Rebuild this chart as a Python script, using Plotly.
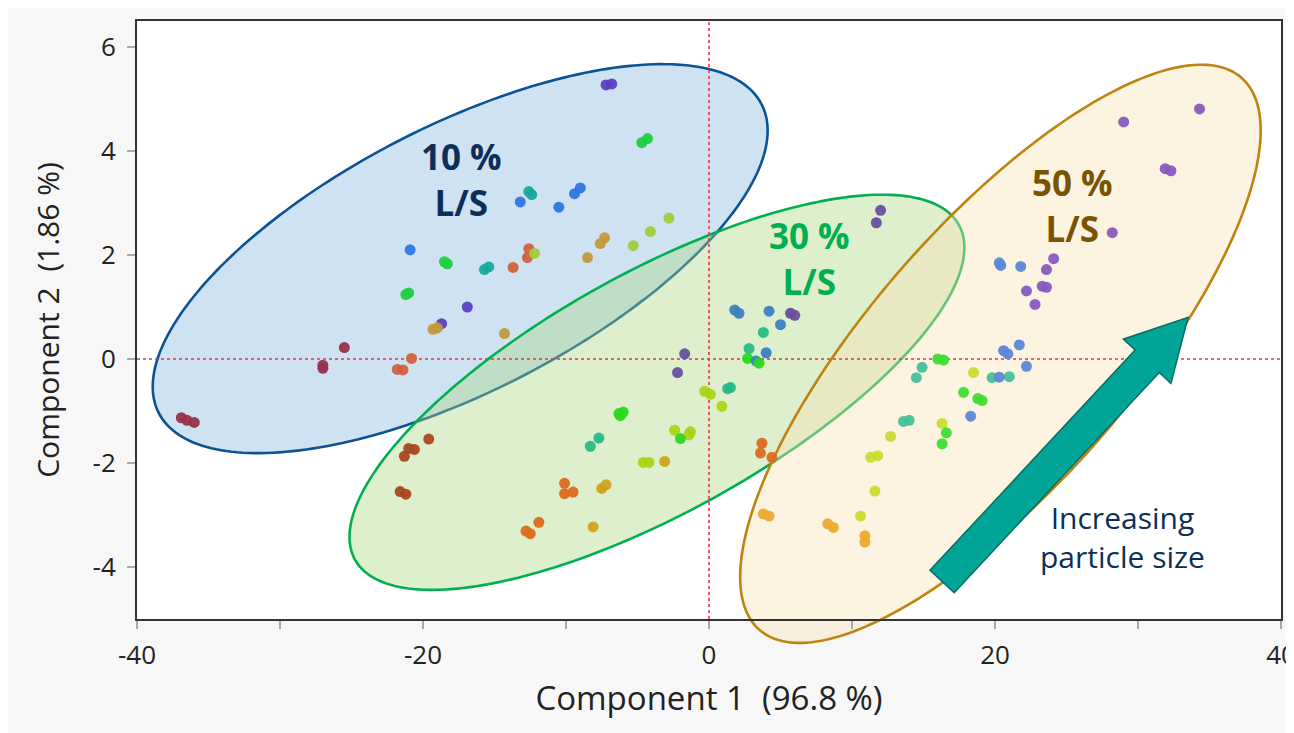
import numpy as np
import plotly.graph_objects as go

# ------------------------------------------------------------------ data
# 10 % L/S samples
ls10_x = [-6.8, -7.2, -4.7, -4.3, -12.6, -12.4, -13.2, -9.0, -9.4, -10.5,
          -2.8, -4.1, -5.3, -7.3, -7.6, -8.5, -12.6, -12.7, -12.2, -13.7,
          -20.9, -18.5, -18.3, -15.7, -15.4, -21.2, -21.0, -16.9, -18.7,
          -19.3, -19.0, -14.3, -25.5, -27.0, -27.0, -20.8, -21.8, -21.4,
          -36.9, -36.5, -36.0]
ls10_y = [5.29, 5.27, 4.16, 4.24, 3.22, 3.16, 3.02, 3.29, 3.18, 2.92,
          2.71, 2.45, 2.18, 2.33, 2.22, 1.95, 2.12, 1.95, 2.03, 1.76,
          2.10, 1.87, 1.83, 1.72, 1.77, 1.24, 1.27, 1.00, 0.68,
          0.57, 0.60, 0.49, 0.22, -0.12, -0.18, 0.01, -0.20, -0.21,
          -1.13, -1.18, -1.22]
ls10_c = ["purple", "purple", "green", "green", "teal", "teal", "blue", "blue", "blue", "blue",
          "yellowgreen", "yellowgreen", "yellowgreen", "tan", "tan", "tan", "redorange", "redorange",
          "yellowgreen", "redorange",
          "blue", "green", "green", "teal", "teal", "green", "green", "purple", "purple",
          "tan", "tan", "tan", "maroon", "maroon", "maroon", "redorange", "redorange", "redorange",
          "maroon", "maroon", "maroon"]

# 30 % L/S samples
ls30_x = [12.0, 11.7, 1.8, 2.1, 4.2, 5.7, 6.0, 3.8, 5.0, -1.7, -2.2,
          2.8, 4.0, 2.7, 3.3, 3.5, 1.3, 1.5, -0.3, 0.1, 0.9,
          -6.3, -6.0, -6.2, -2.4, -1.3, -1.4, -2.0, -7.7, -8.3,
          -4.6, -4.2, -3.1, 3.7, 3.6, 4.4,
          -19.6, -21.0, -20.6, -21.3, -21.6, -21.2,
          -10.1, -10.1, -9.5, -7.5, -7.2, -11.9, -12.8, -12.5, -8.1]
ls30_y = [2.86, 2.62, 0.94, 0.88, 0.92, 0.88, 0.84, 0.51, 0.66, 0.10, -0.26,
          0.20, 0.12, 0.01, -0.04, -0.08, -0.57, -0.55, -0.62, -0.68, -0.91,
          -1.05, -1.02, -1.09, -1.37, -1.40, -1.46, -1.53, -1.52, -1.68,
          -1.99, -1.99, -1.97, -1.62, -1.81, -1.89,
          -1.54, -1.72, -1.74, -1.87, -2.55, -2.60,
          -2.39, -2.59, -2.56, -2.49, -2.42, -3.14, -3.31, -3.36, -3.23]
ls30_c = ["purple", "purple", "blue", "blue", "blue", "purple", "purple", "teal", "blue", "purple", "purple",
          "teal", "blue", "green", "blue", "green", "teal", "teal", "yellowgreen", "yellowgreen", "yellowgreen",
          "green", "green", "green", "yellowgreen", "yellowgreen", "yellowgreen", "green", "teal", "teal",
          "yellowgreen", "yellowgreen", "gold", "orange", "orange", "orange",
          "brown", "brown", "brown", "brown", "brown", "brown",
          "orange", "orange", "orange", "gold", "gold", "orange", "orange", "orange", "gold"]

# 50 % L/S samples
ls50_x = [34.3, 29.0, 31.9, 32.3, 28.2, 20.4, 20.3, 21.8,
          24.1, 23.6, 23.3, 23.6, 22.2, 22.8,
          20.6, 20.9, 21.7, 22.2, 16.0, 16.4, 14.9, 14.5, 18.5,
          19.8, 21.0, 20.3, 17.8, 18.8, 19.1, 18.3,
          16.3, 16.6, 16.3, 13.6, 14.0, 12.7, 11.3, 11.8, 11.6, 10.6,
          3.8, 4.2, 8.3, 8.7, 10.9, 10.9]
ls50_y = [4.81, 4.56, 3.66, 3.62, 2.43, 1.80, 1.85, 1.78,
          1.93, 1.72, 1.40, 1.38, 1.31, 1.05,
          0.16, 0.10, 0.27, -0.14, 0.00, -0.02, -0.16, -0.36, -0.26,
          -0.36, -0.34, -0.35, -0.64, -0.76, -0.80, -1.10,
          -1.24, -1.42, -1.63, -1.20, -1.18, -1.49, -1.89, -1.86, -2.54, -3.02,
          -2.98, -3.02, -3.17, -3.24, -3.40, -3.52]
ls50_c = ["purple", "purple", "purple", "purple", "purple", "blue", "blue", "blue",
          "purple", "purple", "purple", "purple", "purple", "purple",
          "blue", "blue", "blue", "blue", "green", "green", "teal", "teal", "yellowgreen",
          "teal", "teal", "blue", "green", "green", "green", "blue",
          "yellowgreen", "green", "green", "teal", "teal", "yellowgreen", "yellowgreen", "yellowgreen",
          "yellowgreen", "yellowgreen",
          "lightorange", "lightorange", "lightorange", "lightorange", "lightorange", "lightorange"]

pal10 = {"maroon": "#98304a", "redorange": "#d2603e", "tan": "#c39a3a", "yellowgreen": "#a0cc38",
         "green": "#1ecf40", "teal": "#17a99c", "blue": "#2f75e0", "purple": "#5a3fc6"}
pal30 = {"brown": "#a8461e", "orange": "#dc6a1c", "gold": "#cfa31a", "yellowgreen": "#a9d416",
         "green": "#2ad91c", "teal": "#28bb84", "blue": "#3b7fc0", "purple": "#674f9e"}
pal50 = {"lightorange": "#ebaa32", "yellowgreen": "#c8dc30", "green": "#3edc32", "teal": "#48c098",
         "blue": "#5b88d6", "purple": "#875abf"}

# confidence-ellipse parameters (centre, half-extent in x and y, correlation)
ell_name = ["10 %", "30 %", "50 %"]
ell_cx = [-17.4, -3.64, 20.38]
ell_cy = [1.93, -0.64, 0.10]
ell_wx = [21.5, 21.5, 18.2]
ell_wy = [3.74, 3.80, 5.56]
ell_r = [0.658, 0.732, 0.772]
ell_fill = ["rgba(140,185,225,0.42)", "rgba(170,215,130,0.40)", "rgba(250,225,180,0.40)"]
ell_line = ["#0b5394", "#00b050", "#bf8410"]
ell_label_x = [-17.3, 7.06, 25.4]
ell_label_y = [3.45, 1.94, 2.96]
ell_label_col = ["#0c2f5a", "#00b050", "#7a5300"]

x_tickvals = [-40, -20, 0, 20, 40]
x_ticktext = ["-40", "-20", "0", "20", "40"]
x_minor = [-30, -10, 10, 30]
y_tickvals = [-4, -2, 0, 2, 4, 6]
y_ticktext = ["-4", "-2", "0", "2", "4", "6"]

X_RANGE = [-40, 40]
Y_RANGE = [-5, 6.5]

# ------------------------------------------------------------------ layout geometry
W, H = 1294, 733
ML, MR, MT, MB = 129, 21, 13, 122
PW, PH = W - ML - MR, H - MT - MB


def to_dom(x, y):
    return ((np.asarray(x) - X_RANGE[0]) / (X_RANGE[1] - X_RANGE[0]),
            (np.asarray(y) - Y_RANGE[0]) / (Y_RANGE[1] - Y_RANGE[0]))


def path_from(xd, yd):
    pts = " L ".join(f"{a:.5f},{b:.5f}" for a, b in zip(xd, yd))
    return "M " + pts + " Z"


fig = go.Figure()

for xs, ys, cs, pal in [(ls10_x, ls10_y, ls10_c, pal10),
                        (ls30_x, ls30_y, ls30_c, pal30),
                        (ls50_x, ls50_y, ls50_c, pal50)]:
    fig.add_trace(go.Scatter(
        x=xs, y=ys, mode="markers",
        marker=dict(size=11, color=[pal[c] for c in cs], line=dict(width=0), opacity=0.95),
        showlegend=False, hoverinfo="x+y"))

shapes = []
t = np.linspace(0, 2 * np.pi, 241)
for i in range(3):
    ex = ell_cx[i] + ell_wx[i] * np.cos(t)
    ey = ell_cy[i] + ell_wy[i] * (ell_r[i] * np.cos(t) + np.sqrt(1 - ell_r[i] ** 2) * np.sin(t))
    xd, yd = to_dom(ex, ey)
    shapes.append(dict(type="path", xref="x domain", yref="y domain", path=path_from(xd, yd),
                       fillcolor=ell_fill[i], line=dict(color=ell_line[i], width=2.6), layer="below"))

# reference lines at the origin
shapes.append(dict(type="line", xref="x", yref="y domain", x0=0, x1=0, y0=0, y1=1,
                   line=dict(color="#e8334a", width=1.6, dash="dot"), layer="below"))
shapes.append(dict(type="line", xref="x domain", yref="y", x0=0, x1=1, y0=0, y1=0,
                   line=dict(color="#e8334a", width=1.4, dash="3px,3px"), layer="below"))

# block arrow "increasing particle size" (tail/tip in data units, widths in px)
arr_tail = (16.3, -4.28)
arr_tip = (33.5, 0.80)
sx, sy = PW / (X_RANGE[1] - X_RANGE[0]), PH / (Y_RANGE[1] - Y_RANGE[0])
p0 = np.array([arr_tail[0] * sx, arr_tail[1] * sy])
p1 = np.array([arr_tip[0] * sx, arr_tip[1] * sy])
d = p1 - p0
L = np.linalg.norm(d)
u = d / L
n = np.array([u[1], -u[0]])
shaft_hw, head_hw, head_len = 16.5, 32.5, 60.0
base = p1 - u * head_len
poly = [p0 + n * shaft_hw, base + n * shaft_hw, base + n * head_hw, p1,
        base - n * head_hw, base - n * shaft_hw, p0 - n * shaft_hw]
ax_ = [pp[0] / sx for pp in poly]
ay_ = [pp[1] / sy for pp in poly]
xd, yd = to_dom(ax_, ay_)
shapes.append(dict(type="path", xref="x domain", yref="y domain", path=path_from(xd, yd),
                   fillcolor="#00a598", line=dict(color="#0b6b63", width=1.5), layer="above"))

annotations = []
for i in range(3):
    annotations.append(dict(x=ell_label_x[i], y=ell_label_y[i], xref="x", yref="y",
                            text=f"<b>{ell_name[i]}<br>L/S</b>", showarrow=False,
                            font=dict(family="Open Sans", size=35, color=ell_label_col[i])))
annotations.append(dict(x=28.9, y=-3.43, xref="x", yref="y", text="Increasing<br>particle size",
                        showarrow=False, font=dict(family="Open Sans", size=30, color="#0c2f5a")))

xtick_font = dict(family="Open Sans", size=26, color="#222222")
ytick_font = dict(family="Open Sans", size=26, color="#222222")
fig.update_layout(
    width=W, height=H,
    margin=dict(l=ML, r=MR, t=MT, b=MB),
    paper_bgcolor="#f7f7f7", plot_bgcolor="#ffffff",
    shapes=shapes, annotations=annotations,
    xaxis=dict(range=X_RANGE, tickvals=x_tickvals, ticktext=x_ticktext, showgrid=False, zeroline=False,
               automargin=False,
               showline=True, linecolor="#333333", linewidth=2, mirror=True,
               ticks="outside", ticklen=8, tickcolor="#a8a8a8", tickwidth=1.5, ticklabelstandoff=4,
               minor=dict(tickvals=x_minor, ticks="outside", ticklen=8, tickcolor="#a8a8a8", tickwidth=1.5),
               tickfont=xtick_font,
               title=dict(text="Component 1  (96.8 %)", font=dict(family="Open Sans", size=33, color="#222222"),
                          standoff=16)),
    yaxis=dict(range=Y_RANGE, tickvals=y_tickvals, ticktext=y_ticktext, showgrid=False, zeroline=False,
               automargin=False,
               showline=True, linecolor="#333333", linewidth=2, mirror=True,
               ticks="outside", ticklen=8, tickcolor="#a8a8a8", tickwidth=1.5, ticklabelstandoff=6,
               tickfont=ytick_font,
               title=dict(text="Component 2  (1.86 %)", font=dict(family="Open Sans", size=30, color="#222222"),
                          standoff=24)),
)

fig.write_html("out.html")
